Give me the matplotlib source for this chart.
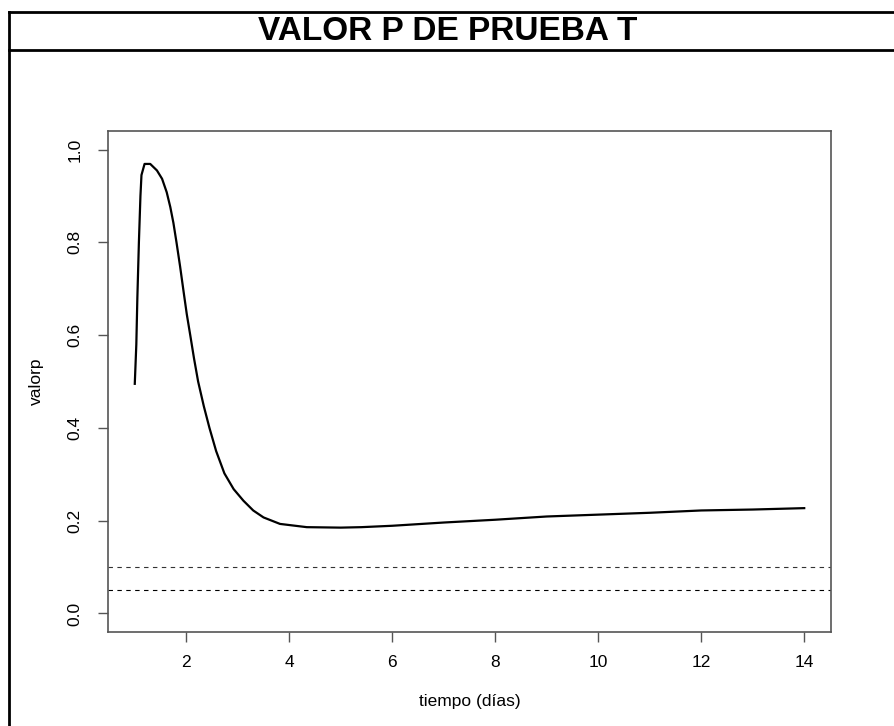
import numpy as np
import matplotlib.pyplot as plt
from matplotlib.lines import Line2D

plt.rcParams['font.family'] = ['Liberation Sans', 'DejaVu Sans']

# valores
tiempo = [1.00, 1.03, 1.05, 1.08, 1.11, 1.13, 1.19, 1.30, 1.43, 1.53, 1.62, 1.69,
          1.75, 1.81, 1.88, 1.95, 2.01, 2.08, 2.15, 2.23, 2.34, 2.45, 2.58, 2.74,
          2.92, 3.11, 3.30, 3.50, 3.82, 4.34, 5.0, 5.4, 6, 7, 8, 9, 10, 11, 12, 13, 14]
valorp = [0.495, 0.58, 0.68, 0.80, 0.90, 0.945, 0.969, 0.969, 0.955, 0.937, 0.908, 0.876,
          0.842, 0.800, 0.748, 0.692, 0.645, 0.598, 0.550, 0.500, 0.447, 0.400, 0.350, 0.302,
          0.268, 0.243, 0.222, 0.207, 0.193, 0.186, 0.185, 0.186, 0.189, 0.196, 0.202,
          0.209, 0.213, 0.217, 0.222, 0.224, 0.227]
umbrales = [0.10, 0.05]

W, H = 894, 726
fig = plt.figure(figsize=(W / 100, H / 100), dpi=100)

# marco y caja del titulo
def fx(px):
    return px / W

def fy(py):
    return 1 - py / H

fig.add_artist(Line2D([fx(9), fx(9)], [fy(12), 0], color='black', lw=2))
fig.add_artist(Line2D([fx(9), 1], [fy(12), fy(12)], color='black', lw=2))
fig.add_artist(Line2D([fx(9), 1], [fy(50), fy(50)], color='black', lw=2))
fig.text(fx(448), fy(32), 'VALOR P DE PRUEBA T', ha='center', va='center',
         fontsize=24, fontweight='bold')

ax = fig.add_axes([fx(108), fy(632), fx(831) - fx(108), fy(131) - fy(632)])
ax.plot(tiempo, valorp, color='black', lw=1.6)
ax.axhline(umbrales[0], color='#333333', lw=0.8, linestyle=(0, (4, 4)))
ax.axhline(umbrales[1], color='black', lw=0.8, linestyle=(0, (4, 4)))

ax.set_xlim(0.48, 14.52)
ax.set_ylim(-0.04, 1.04)
ax.set_xticks([2, 4, 6, 8, 10, 12, 14])
ax.set_yticks([0.0, 0.2, 0.4, 0.6, 0.8, 1.0])
ax.set_yticklabels(['0.0', '0.2', '0.4', '0.6', '0.8', '1.0'], rotation=90, va='center')
ax.tick_params(axis='both', labelsize=12.5, length=7.5, width=1, color='#555555')
ax.tick_params(axis='x', pad=9)
ax.tick_params(axis='y', pad=11)
for s in ax.spines.values():
    s.set_color('#555555')
    s.set_linewidth(1.2)

ax.set_xlabel('tiempo (días)', fontsize=12.5, labelpad=17)
ax.set_ylabel('valorp', fontsize=12.5, labelpad=17)

fig.savefig('out.png', dpi=100)
